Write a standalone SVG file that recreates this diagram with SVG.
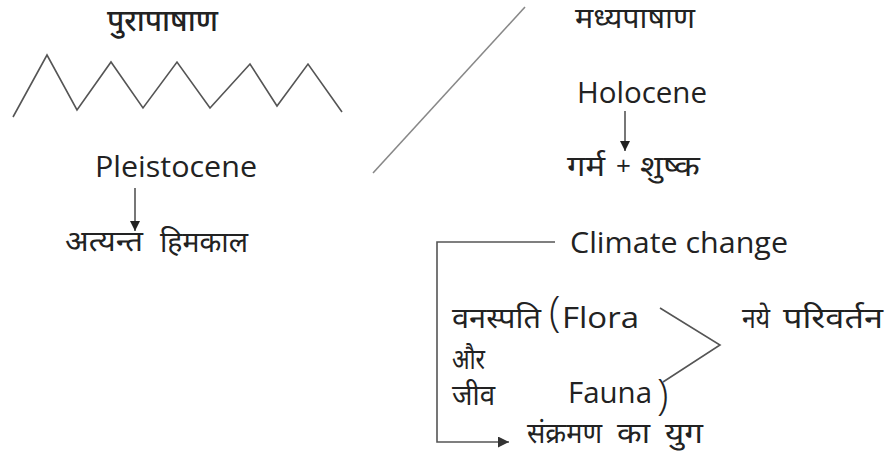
<svg xmlns="http://www.w3.org/2000/svg" width="890" height="461" viewBox="0 0 890 461">
<style>
.en{font-family:"Open Sans","Liberation Sans",sans-serif;font-size:30px;fill:#222}
.hi{font-family:"Noto Sans Devanagari","Noto Sans","Lohit Devanagari",sans-serif;font-size:29px;font-weight:400;fill:#222}
.par{font-size:42px;font-weight:300}
.ln{fill:none;stroke:#555;stroke-width:1.6}
</style>
<defs>
<marker id="ah" viewBox="0 0 10 10" refX="10" refY="5" markerWidth="10" markerHeight="10" markerUnits="userSpaceOnUse" orient="auto">
<path d="M0,0 L10,5 L0,10 Z" fill="#222"/>
</marker>
<marker id="ah2" viewBox="0 0 10 10" refX="10" refY="5" markerWidth="11" markerHeight="11" markerUnits="userSpaceOnUse" orient="auto">
<path d="M0,0 L10,5 L0,10 Z" fill="#333"/>
</marker>
</defs>
<rect width="890" height="461" fill="#fff"/>
<g id="palaeolithic">
<text class="hi" x="107" y="31" style="font-size:31px;font-weight:500" textLength="111" lengthAdjust="spacingAndGlyphs">पुरापाषाण</text>
<polyline class="ln" points="13,117 47,55 77,110 111,62 143,108 177,62 210,108 250,64 277,106 308,64 342,112"/>
</g>
<g id="divider">
<line x1="525" y1="7" x2="373" y2="173" stroke="#888" stroke-width="1.6"/>
</g>
<g id="mesolithic">
<text class="hi" x="575" y="28" textLength="120" lengthAdjust="spacingAndGlyphs">मध्यपाषाण</text>
</g>
<g id="pleistocene">
<text class="en" x="95" y="177" textLength="162" lengthAdjust="spacingAndGlyphs">Pleistocene</text>
</g>
<g id="extreme-ice-age">
<text class="hi" x="65" y="251" textLength="78" lengthAdjust="spacingAndGlyphs">अत्यन्त</text>
<text class="hi" x="160" y="252" textLength="88" lengthAdjust="spacingAndGlyphs">हिमकाल</text>
</g>
<g id="holocene">
<text class="en" x="577" y="103" textLength="130" lengthAdjust="spacingAndGlyphs">Holocene</text>
</g>
<g id="warm-dry">
<text class="hi" x="567" y="176" textLength="38" lengthAdjust="spacingAndGlyphs">गर्म</text>
<text class="en" x="616" y="175" style="font-size:26px">+</text>
<text class="hi" x="640" y="176" textLength="60" lengthAdjust="spacingAndGlyphs">शुष्क</text>
</g>
<g id="climate-change">
<text class="en" x="570" y="253" textLength="218" lengthAdjust="spacingAndGlyphs">Climate change</text>
</g>
<g id="flora-fauna">
<text class="hi" x="452" y="328" textLength="89" lengthAdjust="spacingAndGlyphs">वनस्पति</text>
<text class="hi" x="452" y="369" textLength="33" lengthAdjust="spacingAndGlyphs">और</text>
<text class="hi" x="452" y="405" textLength="43" lengthAdjust="spacingAndGlyphs">जीव</text>
<text class="en par" x="549" y="326">(</text>
<text class="en" x="562" y="328" textLength="77" lengthAdjust="spacingAndGlyphs">Flora</text>
<text class="en" x="568" y="403" textLength="84" lengthAdjust="spacingAndGlyphs">Fauna</text>
<text class="en par" x="657" y="409">)</text>
</g>
<g id="new-changes">
<text class="hi" x="742" y="328" textLength="28" lengthAdjust="spacingAndGlyphs">नये</text>
<text class="hi" x="783" y="328" textLength="100" lengthAdjust="spacingAndGlyphs">परिवर्तन</text>
</g>
<g id="transition-age">
<text class="hi" x="527" y="443" textLength="75" lengthAdjust="spacingAndGlyphs">संक्रमण</text>
<text class="hi" x="617" y="443" textLength="33" lengthAdjust="spacingAndGlyphs">का</text>
<text class="hi" x="665" y="443" textLength="38" lengthAdjust="spacingAndGlyphs">युग</text>
</g>
<g id="connectors">
<line class="ln" x1="135" y1="188" x2="135" y2="231" stroke="#222" marker-end="url(#ah)"/>
<line class="ln" x1="625" y1="111" x2="625" y2="151" stroke="#222" marker-end="url(#ah)"/>
<polyline class="ln" points="555,242 437,242 437,442 509,442" marker-end="url(#ah2)"/>
<polyline class="ln" points="660,308 720,345 663,382"/>
</g>
</svg>
